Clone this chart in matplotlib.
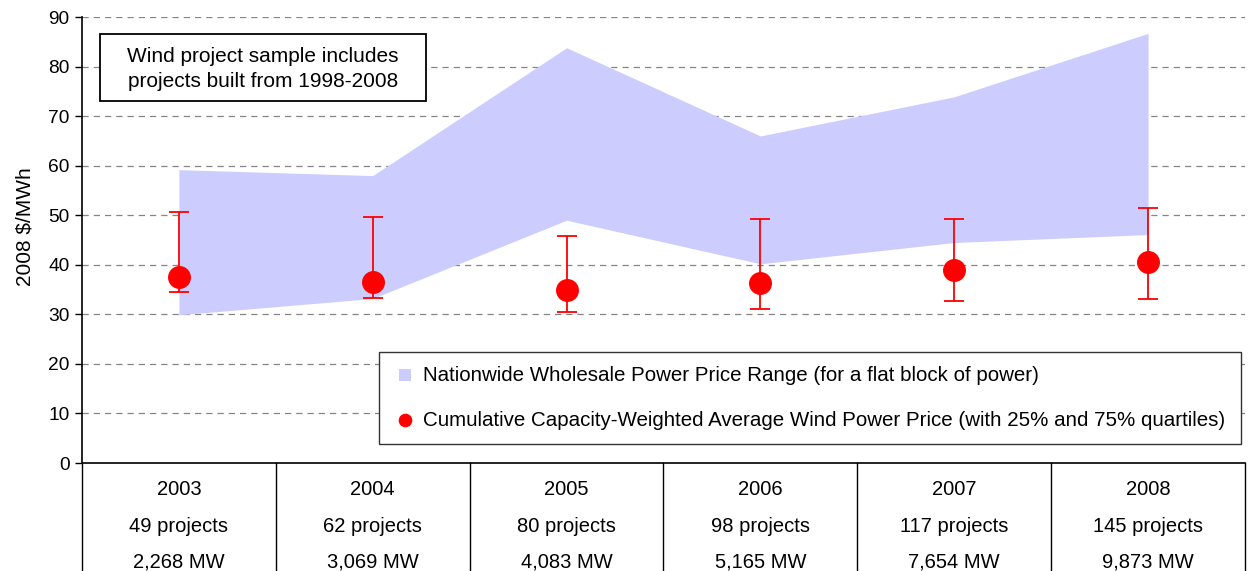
import numpy as np
import matplotlib
matplotlib.use("Agg")
import matplotlib.pyplot as plt
from matplotlib.patches import Rectangle

plt.rcParams['font.family'] = ['Liberation Sans', 'DejaVu Sans']

years = ["2003", "2004", "2005", "2006", "2007", "2008"]
projects = ["49 projects", "62 projects", "80 projects", "98 projects", "117 projects", "145 projects"]
capacity = ["2,268 MW", "3,069 MW", "4,083 MW", "5,165 MW", "7,654 MW", "9,873 MW"]

# wholesale price range (band)
band_low = [29.9, 33.2, 49.0, 40.2, 44.5, 46.1]
band_high = [59.2, 58.0, 83.8, 66.0, 73.9, 86.7]

# wind power price with quartiles
wind_avg = [37.6, 36.6, 35.0, 36.3, 38.9, 40.5]
wind_q25 = [34.5, 33.4, 30.4, 31.1, 32.7, 33.0]
wind_q75 = [50.6, 49.6, 45.8, 49.3, 49.3, 51.5]

band_label = "Nationwide Wholesale Power Price Range (for a flat block of power)"
wind_label = "Cumulative Capacity-Weighted Average Wind Power Price (with 25% and 75% quartiles)"
note = "Wind project sample includes\nprojects built from 1998-2008"

x = np.arange(len(years)) + 0.5

fig = plt.figure(figsize=(12.48, 5.71), dpi=100)
ax = fig.add_axes([0.0657, 0.1891, 0.9319, 0.7811])

ax.fill_between(x, band_low, band_high, color='#CCCCFF', linewidth=0, zorder=2)

avg = np.array(wind_avg)
yerr = [avg - np.array(wind_q25), np.array(wind_q75) - avg]
ax.errorbar(x, avg, yerr=yerr, fmt='o', color='red', ecolor='red',
            markersize=15.5, elinewidth=1.3, capsize=7.5, capthick=1.3, zorder=4)

ax.set_xlim(0, 6)
ax.set_ylim(0, 90)
ax.set_yticks(range(0, 91, 10))
ax.tick_params(axis='y', labelsize=13.8, length=5, direction='out', width=1, pad=4)
ax.set_xticks([])
ax.set_ylabel("2008 $/MWh", fontsize=15)
ax.yaxis.set_label_coords(-0.041, 0.53)

ax.grid(axis='y', color='#858585', linestyle=(0, (5, 4)), linewidth=0.9, zorder=1)
ax.set_axisbelow(True)
for s in ['top', 'right']:
    ax.spines[s].set_visible(False)
ax.spines['left'].set_linewidth(1.2)
ax.spines['bottom'].set_linewidth(1.2)

# table below the axis
trans = ax.get_xaxis_transform()
for i in range(len(years) + 1):
    ax.plot([i, i], [0, -0.4], color='black', linewidth=1, transform=trans, clip_on=False)
for i in range(len(years)):
    ax.text(x[i], -0.060, years[i], transform=trans, ha='center', va='center', fontsize=14.5)
    ax.text(x[i], -0.142, projects[i], transform=trans, ha='center', va='center', fontsize=14.5)
    ax.text(x[i], -0.222, capacity[i], transform=trans, ha='center', va='center', fontsize=14.5)

# note box
ax.add_patch(Rectangle((0.0155, 0.8117), 0.2803, 0.1502, transform=ax.transAxes,
                       facecolor='white', edgecolor='black', linewidth=1.3, zorder=5))
ax.text(0.1556, 0.8835, note, transform=ax.transAxes, ha='center', va='center',
        fontsize=15, linespacing=1.45, zorder=6)

# legend, drawn by hand
ax.add_patch(Rectangle((0.2558, 0.0426), 0.7408, 0.2056, transform=ax.transAxes,
                       facecolor='white', edgecolor='#333333', linewidth=1.0, zorder=5))
ax.add_patch(Rectangle((0.2726, 0.1839), 0.0103, 0.0269, transform=ax.transAxes,
                       facecolor='#CCCCFF', edgecolor='none', zorder=6))
ax.plot([0.2777], [0.0964], 'o', color='red', markersize=8.8, transform=ax.transAxes,
        clip_on=False, zorder=6)
ax.text(0.2932, 0.1973, band_label, transform=ax.transAxes, ha='left', va='center',
        fontsize=14.8, zorder=6)
ax.text(0.2932, 0.0964, wind_label, transform=ax.transAxes, ha='left', va='center',
        fontsize=14.8, zorder=6)

fig.savefig("out.png", dpi=100)
